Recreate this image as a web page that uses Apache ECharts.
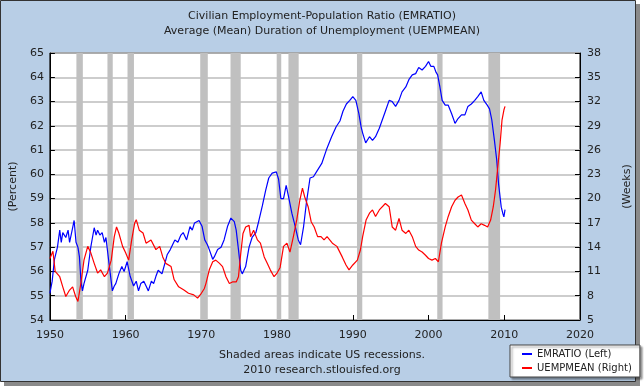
<!DOCTYPE html>
<html><head><meta charset="utf-8">
<script src="https://cdn.jsdelivr.net/npm/echarts@6/dist/echarts.min.js"></script>
<style>html,body{margin:0;padding:0;background:#fff}#c{width:644px;height:388px}</style>
</head><body><div id="c"></div>
<script>
const titleLines = ['Civilian Employment-Population Ratio (EMRATIO)', 'Average (Mean) Duration of Unemployment (UEMPMEAN)'];
const footerLines = ['Shaded areas indicate US recessions.', '2010 research.stlouisfed.org'];
const leftName = '(Percent)';
const rightName = '(Weeks)';
const seriesNames = ['EMRATIO (Left)', 'UEMPMEAN (Right)'];

const emX = [1950.0,1950.3,1950.6,1951.0,1951.3,1951.5,1951.7,1952.1,1952.4,1952.6,1953.0,1953.2,1953.45,1953.7,1953.9,1954.1,1954.3,1954.5,1955.0,1955.4,1955.85,1956.1,1956.3,1956.6,1956.9,1957.2,1957.4,1957.8,1958.25,1958.5,1958.7,1959.1,1959.5,1959.8,1960.2,1960.6,1961.05,1961.4,1961.7,1962.0,1962.4,1962.7,1963.0,1963.4,1963.7,1964.0,1964.3,1964.8,1965.2,1965.5,1965.9,1966.2,1966.5,1966.9,1967.3,1967.6,1968.05,1968.5,1968.8,1969.1,1969.7,1970.1,1970.45,1970.8,1971.05,1971.5,1971.7,1972.15,1972.6,1973.0,1973.45,1973.9,1974.35,1974.6,1974.9,1975.2,1975.4,1975.85,1976.3,1976.7,1977.2,1977.6,1978.05,1978.5,1978.9,1979.35,1979.9,1980.2,1980.5,1980.85,1981.2,1981.5,1981.95,1982.4,1982.8,1983.1,1983.5,1983.9,1984.35,1984.8,1985.2,1985.9,1986.5,1987.2,1987.8,1988.3,1988.7,1989.15,1989.6,1990.0,1990.4,1990.8,1991.1,1991.3,1991.7,1992.2,1992.6,1993.0,1993.5,1993.9,1994.3,1994.8,1995.2,1995.65,1996.1,1996.5,1997.0,1997.4,1997.85,1998.3,1998.7,1999.15,1999.6,2000.0,2000.3,2000.7,2001.0,2001.2,2001.5,2001.8,2002.2,2002.6,2003.05,2003.5,2003.9,2004.35,2004.8,2005.2,2005.65,2006.1,2006.5,2006.95,2007.3,2007.75,2008.05,2008.35,2008.7,2009.0,2009.25,2009.6,2009.8,2009.95,2010.1];
const emY = [55.1,55.6,56.5,57.0,57.7,57.2,57.6,57.4,57.7,57.2,57.8,58.1,57.2,57.0,56.6,55.6,55.2,55.5,56.05,57.0,57.8,57.5,57.7,57.5,57.6,57.2,57.4,56.35,55.2,55.4,55.5,55.9,56.2,56.0,56.4,55.8,55.4,55.6,55.2,55.5,55.6,55.4,55.2,55.6,55.5,55.8,56.05,55.9,56.35,56.7,56.9,57.1,57.3,57.2,57.5,57.6,57.3,57.85,57.7,58.0,58.1,57.85,57.3,57.1,56.9,56.5,56.6,56.9,57.0,57.3,57.85,58.2,58.05,57.7,56.9,56.05,55.9,56.2,57.0,57.4,57.6,58.1,58.7,59.35,59.85,60.05,60.1,59.8,59.0,59.0,59.55,59.1,58.4,57.85,57.3,57.1,57.85,58.9,59.85,59.9,60.1,60.45,61.0,61.55,61.96,62.2,62.6,62.9,63.05,63.2,63.05,62.5,61.95,61.7,61.3,61.55,61.4,61.55,61.9,62.25,62.6,63.05,63.0,62.8,63.05,63.4,63.6,63.9,64.1,64.15,64.4,64.3,64.45,64.65,64.45,64.45,64.2,64.1,63.6,63.05,62.85,62.85,62.5,62.1,62.3,62.45,62.45,62.8,62.9,63.05,63.2,63.4,63.05,62.85,62.7,62.25,61.4,60.6,59.6,58.65,58.4,58.25,58.55];

const uX = [1950.0,1950.4,1950.7,1951.3,1951.7,1952.1,1952.6,1953.0,1953.4,1953.7,1954.1,1954.5,1955.0,1955.4,1955.85,1956.3,1956.7,1957.2,1957.6,1958.1,1958.5,1958.8,1959.1,1959.6,1960.0,1960.4,1960.8,1961.2,1961.4,1961.8,1962.3,1962.7,1963.35,1964.0,1964.5,1964.9,1965.3,1966.0,1966.4,1967.0,1967.7,1968.3,1969.0,1969.5,1970.0,1970.4,1970.6,1971.05,1971.5,1971.9,1972.4,1972.8,1973.25,1973.7,1974.1,1974.6,1974.9,1975.2,1975.5,1975.85,1976.3,1976.5,1976.9,1977.4,1977.8,1978.3,1978.7,1979.1,1979.6,1980.0,1980.4,1980.85,1981.3,1981.7,1982.15,1982.6,1983.0,1983.35,1983.65,1984.1,1984.5,1984.9,1985.35,1985.8,1986.2,1986.6,1987.3,1987.9,1988.6,1989.1,1989.5,1990.0,1990.6,1991.0,1991.3,1991.75,1992.2,1992.6,1993.0,1993.5,1994.3,1994.8,1995.2,1995.65,1996.1,1996.5,1997.0,1997.4,1997.85,1998.3,1998.7,1999.15,1999.6,2000.0,2000.45,2000.9,2001.3,2001.7,2002.2,2002.6,2003.05,2003.5,2003.9,2004.35,2004.8,2005.2,2005.65,2006.1,2006.5,2006.95,2007.4,2007.8,2008.2,2008.55,2008.85,2009.15,2009.45,2009.7,2009.95,2010.1];
const uY = [12.6,13.5,11.0,10.35,9.1,7.9,8.7,9.1,7.9,7.3,9.6,12.4,14.1,13.3,12.0,10.8,11.2,10.35,10.8,12.4,15.3,16.5,15.75,14.1,13.3,12.4,14.9,17.0,17.4,16.1,15.75,14.5,14.9,13.7,14.1,12.8,12.0,11.6,10.0,9.1,8.7,8.3,8.1,7.7,8.3,8.9,9.5,11.2,12.2,12.4,12.0,11.6,10.35,9.5,9.7,9.7,10.35,13.2,15.7,16.5,16.7,15.3,16.1,14.9,14.5,12.8,12.0,11.2,10.35,10.8,11.5,14.1,14.5,13.4,15.3,17.4,19.8,21.3,20.2,19.0,17.15,16.5,15.3,15.3,14.9,15.3,14.5,14.1,12.8,11.8,11.2,11.8,12.4,13.65,15.3,17.35,18.2,18.6,17.8,18.6,19.4,19.0,16.5,16.1,17.55,16.1,15.7,16.1,15.3,14.1,13.65,13.4,13.0,12.6,12.4,12.6,12.2,14.5,16.5,17.8,19.0,19.8,20.2,20.45,19.4,18.6,17.35,16.9,16.5,16.9,16.7,16.5,17.35,19.0,21.1,23.95,26.8,29.7,30.95,31.4];

const recStart = [1953.5,1957.6,1960.25,1969.85,1973.85,1979.95,1981.5,1990.55,2001.15,2007.9];
const recEnd   = [1954.35,1958.3,1961.1,1970.85,1975.2,1980.55,1982.85,1991.25,2001.85,2009.45];

const xMin = 1950, xMax = 2020, xStep = 10;
const lMin = 54, lMax = 65, lStep = 1;
const rMin = 5, rMax = 38, rStep = 3;

const FONT = 'DejaVu Sans';
const zip = (a, b) => a.map((v, i) => [v, b[i]]);
const chart = echarts.init(document.getElementById('c'), null, {renderer: 'canvas'});
const lbl = {color: '#222', fontFamily: FONT, fontSize: 11};

chart.setOption({
  animation: false,
  backgroundColor: 'transparent',
  graphic: [
    {type: 'rect', z: -10, shape: {x: 4, y: 4, width: 636, height: 382}, style: {fill: '#8a8a8a'}},
    {type: 'rect', z: -9, shape: {x: 0.5, y: 0.5, width: 635, height: 381}, style: {fill: '#B8CEE6', stroke: '#333', lineWidth: 1}},
    {type: 'text', left: 'center', top: 9, style: {text: titleLines.join('\n'), fill: '#222', font: '11px ' + FONT, lineHeight: 15, textAlign: 'center'}},
    {type: 'text', left: 'center', top: 348, style: {text: footerLines.join('\n'), fill: '#222', font: '11px ' + FONT, lineHeight: 15, textAlign: 'center'}}
  ],
  grid: {left: 46, right: 64, top: 53, bottom: 68, show: true, backgroundColor: '#fff', borderColor: '#000', borderWidth: 1},
  legend: {
    orient: 'vertical', left: 510, top: 345, padding: [4, 8, 4, 12], itemGap: 4,
    backgroundColor: '#fff', borderColor: '#444', borderWidth: 1,
    shadowColor: 'rgba(0,0,0,0.4)', shadowOffsetX: 2, shadowOffsetY: 2, shadowBlur: 2,
    itemWidth: 10, itemHeight: 2, icon: 'rect',
    textStyle: {color: '#222', fontFamily: FONT, fontSize: 10},
    data: seriesNames
  },
  xAxis: {
    type: 'value', min: xMin, max: xMax, interval: xStep,
    axisLine: {lineStyle: {color: '#000'}},
    axisTick: {inside: true, length: 5, lineStyle: {color: '#000'}},
    axisLabel: Object.assign({margin: 10, formatter: v => String(v)}, lbl),
    splitLine: {show: false}
  },
  yAxis: [
    {type: 'value', min: lMin, max: lMax, interval: lStep, position: 'left',
     name: leftName, nameLocation: 'middle', nameRotate: 90, nameGap: 30,
     nameTextStyle: {color: '#222', fontFamily: FONT, fontSize: 11},
     axisLine: {show: true, lineStyle: {color: '#000'}},
     axisTick: {show: true, inside: true, length: 5, lineStyle: {color: '#000'}},
     axisLabel: Object.assign({margin: 6}, lbl),
     splitLine: {show: true, lineStyle: {color: '#BDBDBD', width: 1.5}}},
    {type: 'value', min: rMin, max: rMax, interval: rStep, position: 'right',
     name: rightName, nameLocation: 'middle', nameRotate: 90, nameGap: 42,
     nameTextStyle: {color: '#222', fontFamily: FONT, fontSize: 11},
     axisLine: {show: true, lineStyle: {color: '#000'}},
     axisTick: {show: true, inside: true, length: 5, lineStyle: {color: '#000'}},
     axisLabel: Object.assign({margin: 7}, lbl),
     splitLine: {show: false}}
  ],
  series: [
    {name: seriesNames[0], type: 'line', yAxisIndex: 0, data: zip(emX, emY), showSymbol: false,
     lineStyle: {color: '#0000FF', width: 1.2}, itemStyle: {color: '#0000FF'}, z: 3,
     markArea: {silent: true, itemStyle: {color: '#C0C0C0'},
       data: recStart.map((s, i) => [{xAxis: s}, {xAxis: recEnd[i]}])}},
    {name: seriesNames[1], type: 'line', yAxisIndex: 1, data: zip(uX, uY), showSymbol: false,
     lineStyle: {color: '#FF0000', width: 1.2}, itemStyle: {color: '#FF0000'}, z: 4}
  ]
});
</script></body></html>
